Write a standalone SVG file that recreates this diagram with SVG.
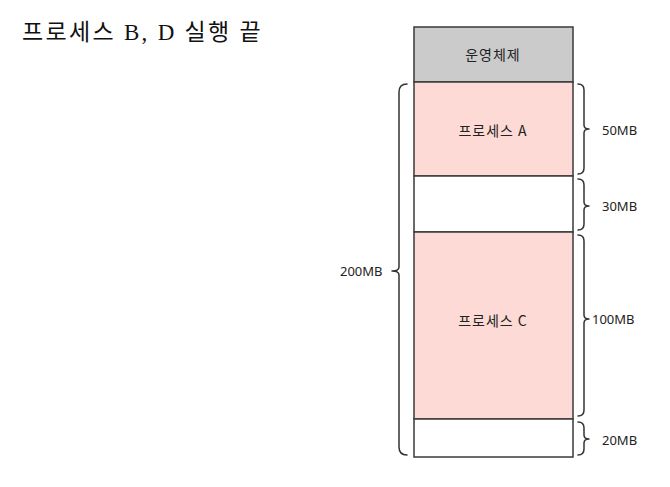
<svg xmlns="http://www.w3.org/2000/svg" width="670" height="487" viewBox="0 0 670 487">
<style>
.box{stroke:#3a3a3a;stroke-width:1.5}
.os{fill:#cbcbcb}
.proc{fill:#fddad5}
.free{fill:#ffffff}
.lbl{font-family:"Noto Sans CJK KR","Noto Sans",sans-serif;font-size:14px;fill:#222;text-anchor:middle;dominant-baseline:central;letter-spacing:1px}
.size{font-family:"Noto Sans","Noto Sans CJK KR",sans-serif;font-size:13px;fill:#222;dominant-baseline:central}
.brace{fill:none;stroke:#333;stroke-width:1.5;stroke-linecap:round;stroke-linejoin:round}
.title{font-family:"Liberation Serif","Noto Sans CJK KR",serif;font-size:23px;fill:#111;letter-spacing:2.3px}
</style>
<rect width="670" height="487" fill="#ffffff"/>
<text class="title" x="22" y="40">프로세스 B, D 실행 끝</text>
<g id="os"><rect class="box os" x="414" y="27" width="159" height="55"/><text class="lbl" x="493" y="54">운영체제</text></g>
<g id="procA"><rect class="box proc" x="414" y="82" width="159" height="94"/><text class="lbl" x="493" y="130">프로세스 A</text></g>
<g id="free1"><rect class="box free" x="414" y="176" width="159" height="56"/></g>
<g id="procC"><rect class="box proc" x="414" y="232" width="159" height="187"/><text class="lbl" x="493" y="320">프로세스 C</text></g>
<g id="free2"><rect class="box free" x="414" y="419" width="159" height="38"/></g>
<g id="connectors">
<path class="brace" d="M578,84 Q584,84 584,90 L584,125 Q584,129 589,129 Q584,129 584,133 L584,168 Q584,174 578,174"/>
<path class="brace" d="M578,179 Q584,179 584,185 L584,202 Q584,206 589,206 Q584,206 584,210 L584,224 Q584,230 578,230"/>
<path class="brace" d="M578,235 Q584,235 584,241 L584,315 Q584,319 589,319 Q584,319 584,323 L584,410 Q584,416 578,416"/>
<path class="brace" d="M578,422 Q584,422 584,428 L584,435 Q584,439 589,439 Q584,439 584,443 L584,449 Q584,455 578,455"/>
<path class="brace" d="M407,84 Q399,84 399,92 L399,267 Q399,271 392,271 Q399,271 399,275 L399,447 Q399,455 407,455"/>
</g>
<g id="sizes">
<text class="size" x="602" y="130">50MB</text>
<text class="size" x="602" y="206">30MB</text>
<text class="size" x="592" y="319">100MB</text>
<text class="size" x="602" y="440">20MB</text>
<text class="size" x="340" y="271">200MB</text>
</g>
</svg>
